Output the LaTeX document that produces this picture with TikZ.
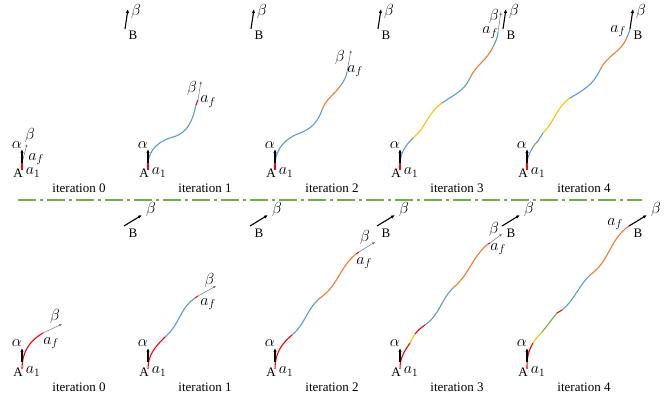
\RequirePackage{fix-cm}
\documentclass[tikz,border=0pt]{standalone}
\usepackage{fontspec}
\setmainfont{Liberation Serif}
\usepackage{tikz}
\usetikzlibrary{arrows.meta}
\definecolor{cBlue}{HTML}{5B9BD5}
\definecolor{cOrange}{HTML}{ED7D31}
\definecolor{cYellow}{HTML}{FFC000}
\definecolor{cGreen}{HTML}{70AD47}
\definecolor{cRed}{HTML}{FF0000}
\tikzset{
    pathLine/.style={
        line width=1.1pt
    },
    headLine/.style={
        -{Latex[length=4pt, width=3.4pt]},
        line width=1.1pt
    },
    endLine/.style={
        -{Latex[length=2.8pt, width=2.6pt]},
        line width=0.5pt,
        draw=black!55
    },
    sepLine/.style={
        draw=cGreen,
        line width=1.8pt,
        dash pattern=on 18pt off 4pt on 3pt off 4pt
    },
    lbl/.style={
        inner sep=0pt,
        font=\fontsize{13}{15}\selectfont
    },
    mlbl/.style={
        inner sep=0pt,
        font=\fontsize{16}{18}\selectfont
    }
}

\begin{document}
\begin{tikzpicture}[x=1pt, y=1pt]

        % Frame
        \useasboundingbox (0,0) rectangle (667,401);

        % Macro for one coloured piece of a path (tangent out, tangent in + 180)
        \def\seg#1#2#3#4#5{
            \draw[pathLine, #1] (#2) to[out=#3, in=#5] (#4);
        }

        % Separator
        \draw[sepLine] (18,201) -- (642,201);

        % ---------------------------------------------------------
        % Top row (beta pointing up)
        % ---------------------------------------------------------

        % Iteration 0
        \begin{scope}[shift={(22,231)}]
            \seg{cRed}{0,0}{90}{0,7}{270}
            \draw[endLine] (0,7) -- (5,26);
            \node[mlbl] (aft0) at (14,11) {$a_f$};
            \node[mlbl] (bet0) at (8,34) {$\beta$};
        \end{scope}

        % Iteration 1
        \begin{scope}[shift={(148,231)}]
            \seg{cRed}{0,0}{90}{0,7}{270}
            \seg{cBlue}{0,7}{85}{25,33}{195}
            \seg{cBlue}{25,33}{15}{48,65}{258}
            \seg{cRed}{48,65}{78}{50,70}{255}
            \draw[endLine] (50,70) -- (53,89);
            \node[mlbl] (aft1) at (60,68.5) {$a_f$};
            \node[mlbl] (bet1) at (44,81) {$\beta$};
        \end{scope}

        % Iteration 2
        \begin{scope}[shift={(275,231)}]
            \seg{cRed}{0,0}{90}{0,7}{270}
            \seg{cBlue}{0,7}{85}{25,37}{200}
            \seg{cBlue}{25,37}{20}{47,60}{250}
            \seg{cOrange}{47,60}{70}{66,85}{235}
            \seg{cBlue}{66,85}{55}{72,98}{260}
            \draw[endLine] (72,98) -- (76,120);
            \node[mlbl] (aft2) at (80,99) {$a_f$};
            \node[mlbl] (bet2) at (65,112) {$\beta$};
        \end{scope}

        % Iteration 3
        \begin{scope}[shift={(400,231)}]
            \seg{cRed}{0,0}{90}{0,7}{270}
            \seg{cBlue}{0,7}{85}{13,32}{225}
            \seg{cYellow}{13,32}{40}{42,67}{215}
            \seg{cBlue}{42,67}{35}{70,92}{245}
            \seg{cOrange}{70,92}{65}{93,123}{245}
            \seg{cBlue}{93,123}{65}{98,138}{265}
            \draw[endLine] (98,138) -- (101,158);
            \node[mlbl] (aft3) at (90,137.5) {$a_f$};
            \node[mlbl] (bet3) at (94,153) {$\beta$};
        \end{scope}

        % Iteration 4
        \begin{scope}[shift={(527,231)}]
            \seg{cRed}{0,0}{90}{0,7}{270}
            \seg{cBlue}{0,7}{85}{6,23}{240}
            \seg{cGreen}{6,23}{60}{11,29}{225}
            \seg{cBlue}{11,29}{45}{16,37}{225}
            \seg{cYellow}{16,37}{45}{43,72}{215}
            \seg{cBlue}{43,72}{30}{73,100}{245}
            \seg{cOrange}{73,100}{65}{100,133}{250}
            \seg{cBlue}{100,133}{70}{103,141}{260}
            \node[mlbl] (aft4) at (91,139) {$a_f$};
        \end{scope}

        % ---------------------------------------------------------
        % Bottom row (beta pointing to the right)
        % ---------------------------------------------------------

        % Iteration 0
        \begin{scope}[shift={(22,32)}]
            \seg{cRed}{0,0}{90}{21,36}{210}
            \draw[endLine] (21,36) -- (40,45);
            \node[mlbl] (afb0) at (29,26) {$a_f$};
            \node[mlbl] (beb0) at (33,52) {$\beta$};
        \end{scope}

        % Iteration 1
        \begin{scope}[shift={(148,32)}]
            \seg{cRed}{0,0}{90}{17,32}{225}
            \seg{cBlue}{17,32}{40}{47,71}{215}
            \seg{cRed}{47,71}{35}{50,73}{210}
            \draw[endLine] (50,73) -- (68,83);
            \node[mlbl] (afb1) at (60,65) {$a_f$};
            \node[mlbl] (beb1) at (61.5,88) {$\beta$};
        \end{scope}

        % Iteration 2
        \begin{scope}[shift={(275,32)}]
            \seg{cRed}{0,0}{90}{17,34}{220}
            \seg{cBlue}{17,34}{40}{45,71}{220}
            \seg{cOrange}{45,71}{35}{81,115}{220}
            \seg{cRed}{81,115}{35}{84,117}{210}
            \draw[endLine] (84,117) -- (100,127);
            \node[mlbl] (afb2) at (89,106) {$a_f$};
            \node[mlbl] (beb2) at (90,131) {$\beta$};
        \end{scope}

        % Iteration 3
        \begin{scope}[shift={(400,32)}]
            \seg{cRed}{0,0}{90}{10,26}{235}
            \seg{cYellow}{10,26}{55}{15,35}{230}
            \seg{cRed}{15,35}{50}{25,44}{215}
            \seg{cBlue}{25,44}{35}{53,81}{225}
            \seg{cOrange}{53,81}{40}{88,125}{220}
            \seg{cRed}{88,125}{40}{90,126}{215}
            \draw[endLine] (90,126) -- (102,135);
            \node[mlbl] (afb3) at (98,120) {$a_f$};
            \node[mlbl] (beb3) at (94,139) {$\beta$};
        \end{scope}

        % Iteration 4
        \begin{scope}[shift={(527,32)}]
            \seg{cRed}{0,0}{90}{6,26}{240}
            \seg{cYellow}{6,26}{60}{15,37}{230}
            \seg{cGreen}{15,37}{50}{30,56}{230}
            \seg{cRed}{30,56}{45}{35,59}{220}
            \seg{cBlue}{35,59}{40}{63,94}{225}
            \seg{cOrange}{63,94}{35}{102,143}{215}
            \node[mlbl] (afb4) at (88,145) {$a_f$};
        \end{scope}

        % ---------------------------------------------------------
        % Start A, goal B and captions of every panel
        % ---------------------------------------------------------
        \foreach \i/\x in {0/22, 1/148, 2/275, 3/400, 4/527} {
            % top panel
            \begin{scope}[shift={(\x,231)}]
                \draw[headLine] (0,7) -- (0,21);
                \draw[headLine] (103,141) -- (106,161);
                \node[lbl] (At\i) at (-4,-3) {A};
                \node[mlbl] (aonet\i) at (11,-2.5) {$a_1$};
                \node[mlbl] (alphat\i) at (-5,25) {$\alpha$};
                \node[lbl] (Bt\i) at (111,135) {B};
                \node[mlbl] (betaBt\i) at (114,158) {$\beta$};
                \node[lbl] (itert\i) at (57,-18) {iteration \i};
            \end{scope}
            % bottom panel
            \begin{scope}[shift={(\x,32)}]
                \draw[headLine] (0,7) -- (0,21);
                \draw[headLine] (102,143) -- (120,154);
                \node[lbl] (Ab\i) at (-4,-3) {A};
                \node[mlbl] (aoneb\i) at (11,-2.5) {$a_1$};
                \node[mlbl] (alphab\i) at (-5,26) {$\alpha$};
                \node[lbl] (Bb\i) at (111,136) {B};
                \node[mlbl] (betaBb\i) at (129,159) {$\beta$};
                \node[lbl] (iterb\i) at (57,-18) {iteration \i};
            \end{scope}
        }

\end{tikzpicture}
\end{document}
